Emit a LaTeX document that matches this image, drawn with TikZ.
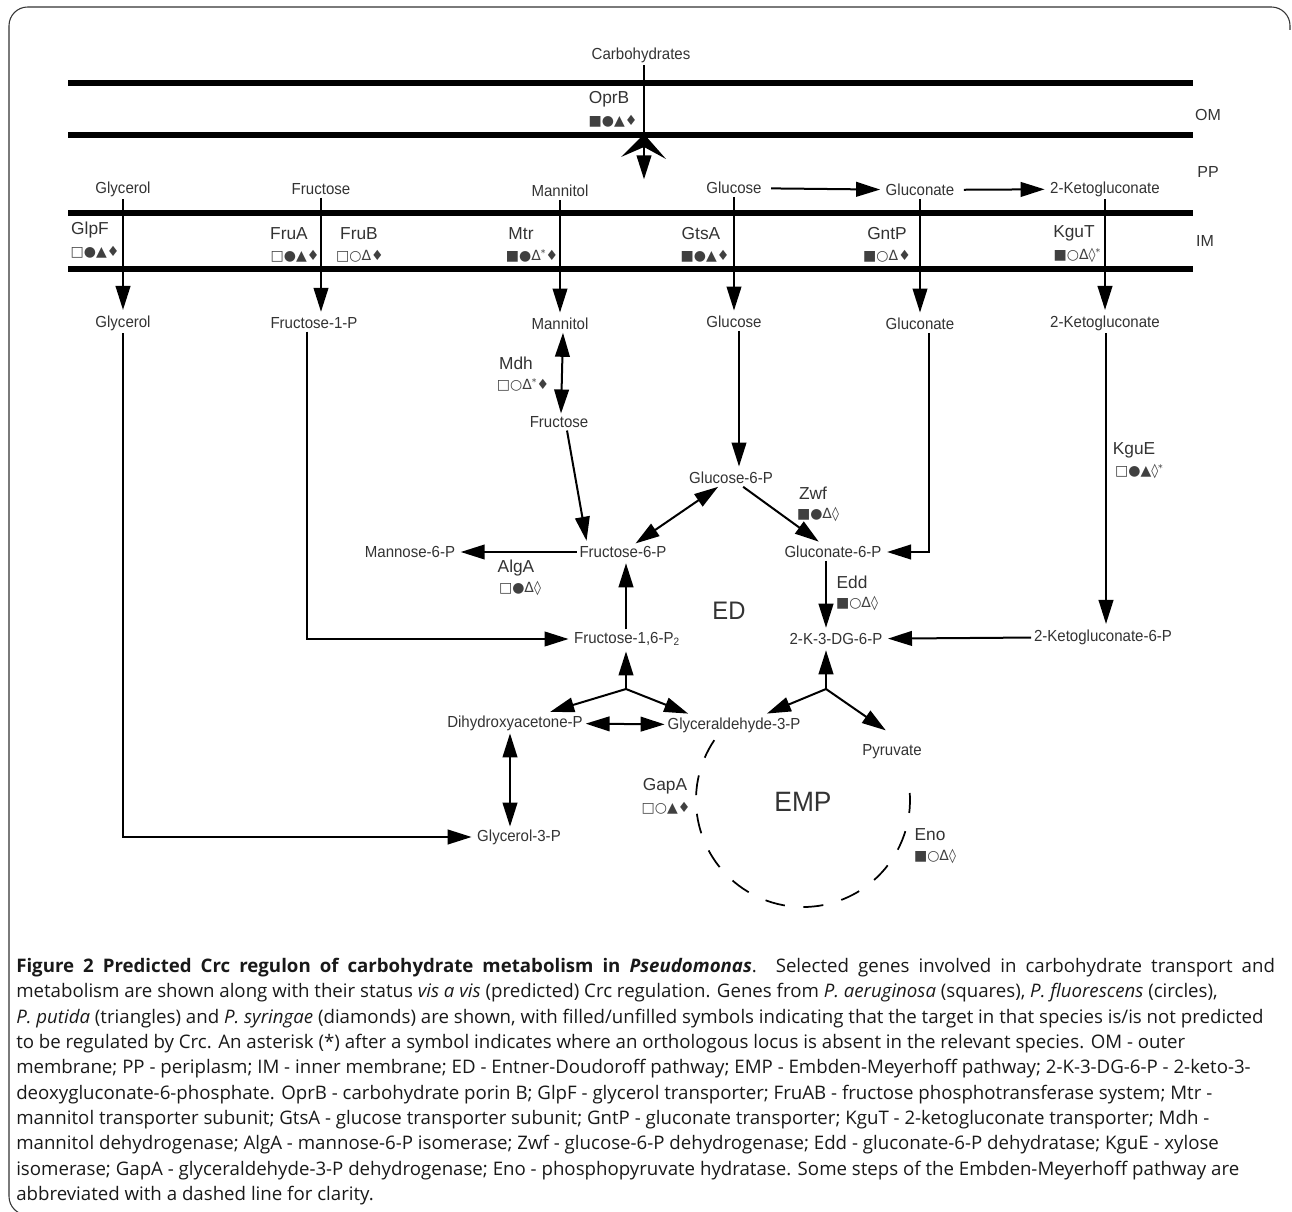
\documentclass[tikz,border=0pt]{standalone}
\usepackage{fontspec}
\setmainfont{Open Sans}
\newfontfamily\labelfont{Liberation Sans}[FakeStretch=0.94]
\newfontfamily\genefont{Liberation Sans}
\newfontfamily\symfont{DejaVu Sans}
\usetikzlibrary{arrows.meta,calc}

% raised asterisk after a symbol (locus absent)
\newcommand{\orth}{\raisebox{0.5ex}{\scriptsize *}}

\begin{document}
\begin{tikzpicture}[x=0.75pt,y=-0.75pt,
    met/.style={font=\labelfont\fontsize{12}{14}\selectfont,text=black!80,inner sep=2pt},
    gene/.style={font=\genefont\fontsize{13}{15}\selectfont,text=black!80,inner sep=0pt},
    sym/.style={font=\symfont\fontsize{10.5}{12}\selectfont,text=black!75,inner sep=0pt},
    region/.style={font=\genefont\fontsize{12}{14}\selectfont,text=black!80},
    pathway/.style={font=\labelfont\fontsize{19}{22}\selectfont,text=black!80},
    membrane/.style={line width=3.8pt},
    flow/.style={line width=1.5pt,-{Triangle[length=18pt,width=11pt]},shorten >=2pt},
    both/.style={line width=1.5pt,{Triangle[length=18pt,width=11pt]}-{Triangle[length=18pt,width=11pt]}},
]
\useasboundingbox (0,0) rectangle (1292,1212);

% === Frame ===
\draw[line width=0.8pt,black!80,rounded corners=14] (1290,30) |- (9,7) |- (40,1215);

% === Membranes ===
\foreach \y in {83,135,213,269}
    \draw[membrane] (68,\y) -- (1193,\y);
\node[region] (om) at (1208,115) {OM};
\node[region] (pp) at (1208,172) {PP};
\node[region] (im) at (1205,241) {IM};

% === Outer membrane: porin ===
\node[met] (carb) at (641,55) {Carbohydrates};
\coordinate (pore) at (644,182);
\draw[flow] (carb.south -| pore) -- (pore);
\fill (644,134) -- (666,159) -- (644,147) -- (621,157) -- cycle;
\node[gene] (oprB) at (609,99) {OprB};
\node[sym] (oprBsym) at (613,121) {■●▲♦};

% === Periplasm ===
\node[met] (ppGly) at (123,189) {Glycerol};
\node[met] (ppFru) at (321,189) {Fructose};
\node[met] (ppMan) at (560,191) {Mannitol};
\node[met] (ppGlc) at (734,188) {Glucose};
\node[met] (ppGlcn) at (920,190) {Gluconate};
\node[met] (ppKg) at (1105,189) {2-Ketogluconate};
\draw[flow,shorten <=5pt] (ppGlc) -- (ppGlcn);
\draw[flow,shorten <=5pt] (ppGlcn) -- (ppKg);

% === Inner membrane transporters ===
\node[gene] (glpF) at (90,230) {GlpF};
\node[sym] (glpFsym) at (95,252) {□●▲♦};
\node[gene] (fruA) at (289,234) {FruA};
\node[sym] (fruAsym) at (295,256) {□●▲♦};
\node[gene] (fruB) at (359,234) {FruB};
\node[sym] (fruBsym) at (360,256) {□○Δ♦};
\node[gene] (mtr) at (521,234) {Mtr};
\node[sym] (mtrsym) at (532,256) {■●Δ\orth♦};
\node[gene] (gtsA) at (701,234) {GtsA};
\node[sym] (gtsAsym) at (705,256) {■●▲♦};
\node[gene] (gntP) at (887,234) {GntP};
\node[sym] (gntPsym) at (887,256) {■○Δ♦};
\node[gene] (kguT) at (1074,233) {KguT};
\node[sym] (kguTsym) at (1077,255) {■○Δ◊\orth};

% === Cytoplasm ===
\node[met] (cyGly) at (123,323) {Glycerol};
\node[met] (cyFru) at (314,323) {Fructose-1-P};
\node[met] (cyMan) at (560,324) {Mannitol};
\node[met] (cyGlc) at (734,322) {Glucose};
\node[met] (cyGlcn) at (920,324) {Gluconate};
\node[met] (cyKg) at (1105,323) {2-Ketogluconate};

% transport across IM
\draw[flow] (ppGly.south) -- (ppGly.south |- cyGly.north);
\draw[flow] (ppFru.south) -- (ppFru.south |- cyFru.north);
\draw[flow] (ppMan) -- (cyMan);
\draw[flow] (ppGlc) -- (cyGlc);
\draw[flow] (ppGlcn) -- (cyGlcn);
\draw[flow] (ppKg) -- (cyKg);

% metabolites
\node[met] (fruc) at (559,422) {Fructose};
\node[met] (glc6p) at (731,478) {Glucose-6-P};
\node[met] (fru6p) at (623,552) {Fructose-6-P};
\node[met] (man6p) at (410,552) {Mannose-6-P};
\node[met] (glcn6p) at (833,552) {Gluconate-6-P};
\node[met] (fbp) at (627,639) {Fructose-1,6-P\textsubscript{2}};
\node[met] (kdpg) at (836,639) {2-K-3-DG-6-P};
\node[met] (kg6p) at (1103,637) {2-Ketogluconate-6-P};
\node[met] (dhap) at (515,723) {Dihydroxyacetone-P};
\node[met] (gap) at (734,725) {Glyceraldehyde-3-P};
\node[met] (pyr) at (892,752) {Pyruvate};
\node[met] (g3p) at (519,837) {Glycerol-3-P};

\node[pathway] (ed) at (729,611) {ED};
\node[pathway,font=\labelfont\fontsize{21}{24}\selectfont] (emp) at (803,802) {EMP};

% enzymes
\node[gene] (mdh) at (516,363) {Mdh};
\node[sym] (mdhsym) at (523,385) {□○Δ\orth♦};
\node[gene] (algA) at (516,568) {AlgA};
\node[sym] (algAsym) at (520,588) {□●Δ◊};
\node[gene] (zwf) at (813,493) {Zwf};
\node[sym] (zwfsym) at (818,514) {■●Δ◊};
\node[gene] (edd) at (852,582) {Edd};
\node[sym] (eddsym) at (857,603) {■○Δ◊};
\node[gene] (kguE) at (1134,450) {KguE};
\node[sym] (kguEsym) at (1139,471) {□●▲◊\orth};
\node[gene] (gapA) at (665,786) {GapA};
\node[sym] (gapAsym) at (666,808) {□○▲♦};
\node[gene] (eno) at (930,835) {Eno};
\node[sym] (enosym) at (935,856) {■○Δ◊};

% branch points
\coordinate (jl) at (626,689);
\coordinate (jr) at (826,689);

% upper pathway
\draw[both] ($(cyMan.south)+(3,0)$) -- ($(fruc.north)+(2,0)$);
\draw[flow] ($(fruc.south)+(8,0)$) -- ($(fru6p.north)+(-36,0)$);
\draw[flow] (fru6p) -- (man6p);
\draw[both] (fru6p) -- (glc6p);
\draw[flow] ($(cyGlc.south)+(5,0)$) -- ($(glc6p.north)+(8,0)$);
\draw[flow] (glc6p) -- (glcn6p);
\draw[flow] ($(cyGlcn.south)+(9,0)$) |- (glcn6p);
\draw[flow] (glcn6p.south -| jr) -- (kdpg.north -| jr);
\draw[flow] ($(cyKg.south)+(1,0)$) -- ($(kg6p.north)+(3,0)$);
\draw[flow] (kg6p) -- (kdpg);
\draw[flow] ($(cyFru.south)+(-7,0)$) |- (fbp);
\draw[flow] (cyGly) |- (g3p);

% lower pathway
\draw[flow] (fbp.north -| jl) -- (fru6p.south -| jl);
\draw[flow] (jl) -- (fbp.south -| jl);
\draw[flow] (jl) -- ($(dhap.north east)+(-38,0)$);
\draw[flow] (jl) -- ($(gap.north west)+(26,0)$);
\draw[flow] (jr) -- (kdpg.south -| jr);
\draw[flow] (jr) -- ($(gap.north east)+(-39,0)$);
\draw[flow] (jr) -- ($(pyr.north)+(-4,-10)$);
\draw[both] (dhap) -- (gap);
\draw[both] ($(dhap.south)+(-5,0)$) -- ($(g3p.north)+(-9,0)$);

% EMP (abbreviated)
\coordinate (empc) at (803,800);
\draw[line width=1.3pt,dash pattern=on 15pt off 14pt]
    ([shift={(-146:107)}]empc) arc[start angle=-146,end angle=-373,radius=107];

% === Caption ===
\node[anchor=north west,align=left,inner sep=0pt,text=black!90,
      font=\fontsize{14}{19}\selectfont] (caption) at (16,958) {%
\hbox to 944pt{\textbf{Figure 2 Predicted Crc regulon of carbohydrate metabolism in \textit{Pseudomonas}}. Selected genes involved in carbohydrate transport and}\\
metabolism are shown along with their status \textit{vis a vis} (predicted) Crc regulation. Genes from \textit{P. aeruginosa} (squares), \textit{P. fluorescens} (circles),\\
\textit{P. putida} (triangles) and \textit{P. syringae} (diamonds) are shown, with filled/unfilled symbols indicating that the target in that species is/is not predicted\\
to be regulated by Crc. An asterisk (*) after a symbol indicates where an orthologous locus is absent in the relevant species. OM - outer\\
membrane; PP - periplasm; IM - inner membrane; ED - Entner-Doudoroff pathway; EMP - Embden-Meyerhoff pathway; 2-K-3-DG-6-P - 2-keto-3-\\
deoxygluconate-6-phosphate. OprB - carbohydrate porin B; GlpF - glycerol transporter; FruAB - fructose phosphotransferase system; Mtr -\\
mannitol transporter subunit; GtsA - glucose transporter subunit; GntP - gluconate transporter; KguT - 2-ketogluconate transporter; Mdh -\\
mannitol dehydrogenase; AlgA - mannose-6-P isomerase; Zwf - glucose-6-P dehydrogenase; Edd - gluconate-6-P dehydratase; KguE - xylose\\
isomerase; GapA - glyceraldehyde-3-P dehydrogenase; Eno - phosphopyruvate hydratase. Some steps of the Embden-Meyerhoff pathway are\\
abbreviated with a dashed line for clarity.};

\end{tikzpicture}
\end{document}
